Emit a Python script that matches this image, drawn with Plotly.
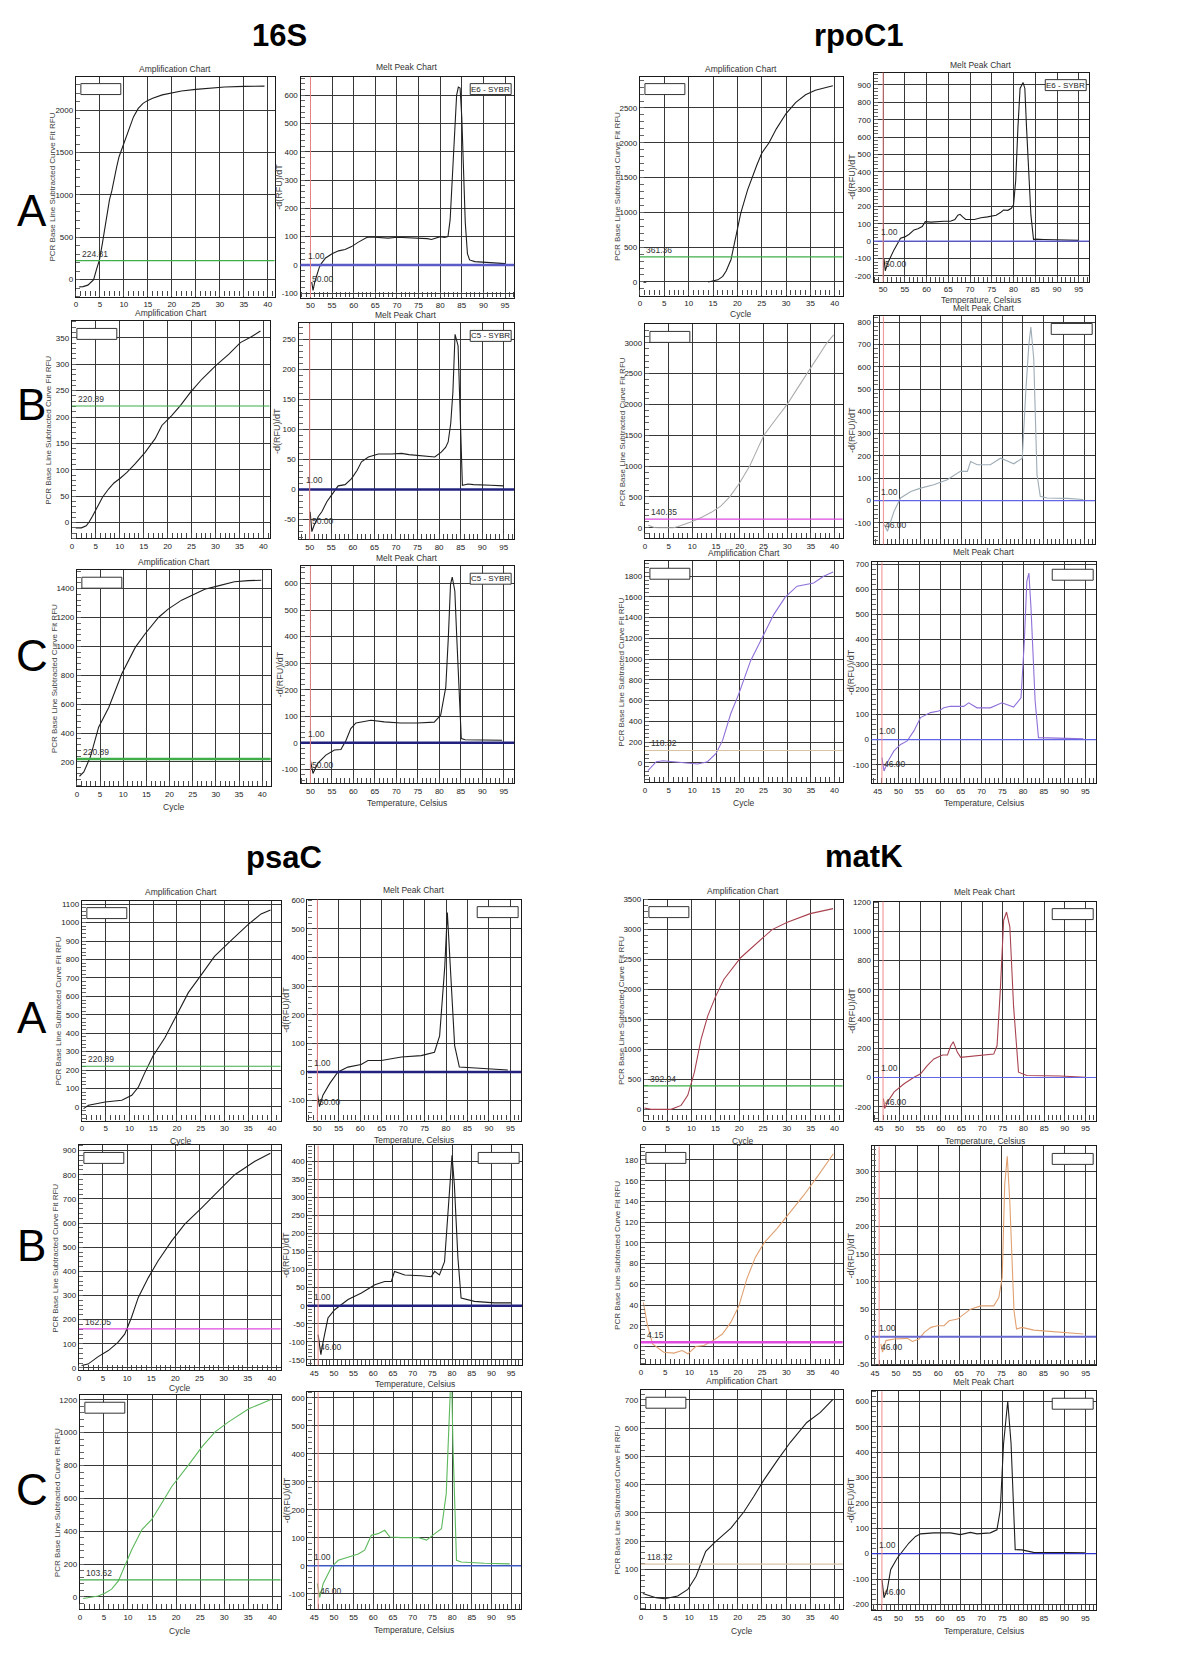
import math
import plotly.graph_objects as go

# ---------------- data ----------------
S16A_amp_x = [0.7,1.5,2.5,3,3.7,4.3,4.9,5.5,6,6.5,7,7.5,8,8.5,9,9.5,10,11,12,13,14,15,16,18,20,22,25,28,31,35,39.3]
S16A_amp_y = [-85,-82,-65,-40,0,120,230,420,600,780,940,1050,1200,1330,1450,1530,1600,1770,1920,2020,2080,2115,2140,2180,2205,2225,2245,2260,2272,2280,2283]
S16A_melt_x = [50.3,50.6,51,51.5,52,52.5,53.5,55,56.5,58,59.5,61,62,63,64,66,68,70,72,74,76,77,78,79,80,81,81.8,82.3,82.8,83.3,83.8,84.2,84.6,85,85.4,85.8,86.3,86.8,88,90,92,94,95]
S16A_melt_y = [-60,-90,-60,-30,-10,5,25,40,50,55,65,80,90,97,99,97,95,98,97,95,94,93,90,96,100,97,100,160,320,480,600,628,625,520,350,150,40,18,12,10,8,6,5]

S16B_amp_x = [0.8,2,3,3.6,4.3,5.1,6.4,7.7,8.8,10.1,11.5,13.2,15.3,17.4,18.8,20.9,22.7,24.8,27.2,30,32.8,35.2,37.5,39.4]
S16B_amp_y = [-10,-10,-6,1,12,26,48,64,75,84,95,111,133,159,184,203,222,247,272,297,319,341,352,363]
S16B_melt_x = [50.1,50.5,51,52,52.8,54,55.1,56.6,58.2,59.7,61,62,63.6,65.9,69,71.3,73,75.1,77,79,80.5,81.5,82.1,82.7,83.2,83.7,84.4,84.8,85.1,85.4,86,86.7,88,90,92,95]
S16B_melt_y = [-37,-70,-60,-45,-37,-20,-9,6,8,18,32,46,54,59,59,60,58,57,56,54,62,70,79,110,162,258,239,150,51,7,8,9,8,8,7,6]

S16C_amp_x = [0.56,1.5,2.9,4.7,6.9,9.7,12.6,14.7,17.6,19.7,22.6,25.5,27.6,30.5,34,37,39.8]
S16C_amp_y = [101,131,234,441,579,810,993,1086,1200,1258,1320,1361,1396,1419,1448,1455,1458]
S16C_melt_x = [50,50.6,51.7,53.6,55.6,57.1,58.3,59.4,60.6,62.5,64.1,67.2,71,74.9,78.8,80.3,81.5,82.1,82.6,83,83.6,84.1,84.6,85.1,86,88,91,94.6]
S16C_melt_y = [-65,-115,-77,-46,-27,-25,10,54,75,79,85,79,75,75,78,104,210,400,597,624,572,380,197,16,12,12,11,10]

RA_amp_x = [0.7,1.3,None,14,15,16,17,17.7,18.7,19.7,20.7,22.1,23,24,25,26.5,28,30,32,34,36,38,39.6]
RA_amp_y = [-5,-5,None,0,10,30,80,157,323,633,990,1323,1500,1680,1850,2000,2200,2420,2580,2690,2755,2795,2820]
RA_melt_x = [50.2,50.5,51,51.7,52.5,53.3,54,55,56,57.1,58,59,59.7,61,62.4,64,65.5,66.5,67.2,67.7,68.3,69,71,72.5,74,76,77,77.7,78.7,79.5,80,80.5,81,81.5,82.2,82.6,83,83.5,84,84.6,85,87,89,91,93,95]
RA_melt_y = [-100,-170,-130,-90,-50,-15,17,25,40,65,72,85,113,110,113,115,115,125,150,155,140,125,125,135,140,150,165,180,178,190,210,350,650,880,914,880,650,400,150,10,12,10,9,5,8,5]

RB_amp_x = [0.7,2,3,4,5,6,7,8,9,10,12,14,16,17.9,20,22.1,24,25.1,28,30,32,34.2,36,38.4,39.8]
RB_amp_y = [40,5,0,0,0,0,20,45,70,100,170,250,350,500,730,1000,1320,1500,1800,2000,2240,2500,2710,3000,3130]
RB_melt_x = [46.2,47,48.6,50.2,52.7,55.1,58.3,61.6,64.8,66.5,67.3,68.9,72.1,74.6,76,77.8,79.9,80.2,80.8,81.5,82,82.7,83.5,84.3,86,90.8,94.8]
RB_melt_y = [-107,-137,-48,12,41,56,71,94,131,131,175,161,161,190,180,165,190,309,500,696,778,637,116,19,12,10,5]

RC_amp_x = [0.63,2.4,3.8,6.2,9,11.1,13.2,15,16.4,18.1,19.8,22.3,25.1,27.2,29.6,32.1,35.6,37.7,39.7]
RC_amp_y = [-77,10,19,10,0,-12,10,90,218,473,665,985,1241,1432,1598,1704,1735,1800,1841]
RC_melt_x = [46,46.5,47.5,48.9,50.5,52.1,53.7,55.3,57.7,59.7,60.9,62.5,65.7,66.9,68.9,72.1,74.9,77.7,79.5,80.3,80.9,81.4,81.9,82.9,83.7,86,90.5,94.5]
RC_melt_y = [-72,-125,-85,-45,-19,-5,35,88,108,114,127,133,133,147,127,127,147,130,167,393,632,665,526,154,8,6,5,3]

PA_amp_x = [0.35,1.4,4.9,8.4,10.5,11.9,13.3,15,17.5,20.3,22.4,25.2,27.9,30.8,34.9,37.7,39.7]
PA_amp_y = [-9,9,27,36,63,108,189,278,377,512,620,719,817,889,988,1047,1069]
PA_melt_x = [50,50.5,51.3,52.9,54.8,57.1,60.2,61.8,64.9,69.6,74.2,77.3,78.5,79.2,79.7,80.3,80.8,81.4,82,83.1,85.1,89.7,94.4]
PA_melt_y = [-75,-121,-81,-40,0,17,26,40,40,52,57,69,126,250,368,557,425,250,92,17,15,12,7]

PB_amp_x = [0.56,1.9,4,6.1,8.1,9.5,10.9,12.3,14.4,16.4,19.2,21.9,25.4,28.8,32.3,36.4,39.7]
PB_amp_y = [10,16,47,72,106,140,209,291,374,443,525,594,662,731,800,855,889]
PB_melt_x = [46,46.7,47.3,48.5,50.2,51.9,53.6,57,60.4,62.9,64.6,65.4,68,72.2,74.7,75.6,76.8,78.1,79.4,80,80.6,81.5,82.3,85.7,90.8,95]
PB_melt_y = [-80,-135,-98,-34,-11,3,17,35,58,67,67,95,85,83,80,95,85,122,333,416,333,131,21,12,8,8]

PC_amp_x = [0.7,3.8,5.2,6.6,8,9.4,10.8,12.9,14.9,17,19.1,22.6,25.4,28.1,30.9,35.1,39.6]
PC_amp_y = [-10,6,22,47,97,188,289,410,470,570,672,803,914,1004,1065,1145,1200]
PC_melt_x = [45.8,46.4,47.3,49.4,51.1,53.6,56.2,57.8,59.5,61.2,62.9,64.2,67.1,71.4,73.5,75.6,77.3,78.5,79.3,79.8,80.2,81.1,82.3,88.2,94.6]
PC_melt_y = [-63,-113,-63,-4,20,32,42,56,109,115,127,103,101,101,92,115,133,258,640,720,436,20,14,9,7]

MA_amp_x = [0.1,1.5,5.7,7.8,9.2,10.6,12,13.4,15.1,16.8,20.3,25.2,26.9,30.1,34.9,39.7]
MA_amp_y = [23,0,0,66,233,621,1174,1561,1894,2171,2531,2890,3000,3123,3267,3350]
MA_melt_x = [46.1,46.4,47.1,48.7,51.1,53.5,55.1,56.7,58.3,60.4,61.6,62.4,63,64,64.8,67.2,70.4,72.8,73.6,74.4,75.2,75.9,76.7,77.6,78.8,80.8,88.9,95]
MA_melt_y = [-144,-212,-167,-99,-43,2,25,81,127,154,154,217,244,172,138,145,154,160,217,601,1076,1132,1031,488,36,14,10,2]

MB_amp_x = [0.5,1.3,2.4,3.4,4.7,6.8,8.5,9.7,11.3,13,15.1,16.8,18.5,20.2,21.9,23.6,25.4,28.1,30.9,33.6,36.4,39.7]
MB_amp_y = [42.5,21.7,2.5,-0.7,-5.5,-6.4,-3.9,-7.1,0,1,6.4,12,23,39,66,86,100,114,130,146,164,186]
MB_melt_x = [46.4,46.8,47.6,49.6,52.7,53.9,55.5,56.7,58.3,59.8,61.4,62.6,64.6,66.1,67.7,70.1,73.2,74.4,75.2,75.8,76.4,77,78,78.6,79.9,82.7,89,94.5]
MB_melt_y = [-13,-28,-7,-4,-3,-8.5,-4,8,17,20,20,29,32,41,50,56,56,71,107,276,327,246,47,14,17,12,8,5]

MC_amp_x = [0.4,3.1,4.9,7.6,9.7,11.4,13.4,15.1,18.6,21.3,23.3,25.4,28.2,30.9,34.3,37.1,39.7]
MC_amp_y = [15,0,-4,6,29,76,164,193,246,304,357,416,486,550,620,656,702]
MC_melt_x = [46,46.5,47.3,48.1,49.7,50.9,52.5,54.1,55.3,58.5,62.5,64.9,67.3,68.9,72.1,73.7,74.5,75.3,76.3,77.1,78.1,79.7,82.5,90.5,94.9]
MC_melt_y = [-102,-174,-141,-63,-17,9,42,68,78,82,82,75,84,78,82,94,172,434,601,434,16,15,5,4,3]

THRESHOLDS = {"16S_A": 224.81, "16S_B": 220.89, "16S_C": 220.89,
              "rpoC1_A": 361.36, "rpoC1_B": 140.35, "rpoC1_C": 118.32,
              "psaC_A": 220.89, "psaC_B": 162.05, "psaC_C": 103.62,
              "matK_A": 392.04, "matK_B": 4.15, "matK_C": 118.32}
MELT_START = {"16S_A": 50, "16S_B": 50, "16S_C": 50, "rpoC1_A": 50, "rpoC1_B": 46, "rpoC1_C": 46,
              "psaC_A": 50, "psaC_B": 46, "psaC_C": 46, "matK_A": 46, "matK_B": 46, "matK_C": 46}
SECTION_TITLES = ["16S", "rpoC1", "psaC", "matK"]
ROW_LABELS = ["A", "B", "C"]

# ---------------- styling / layout ----------------
W, H = 1200, 1662
NARROW = "Liberation Sans Narrow, Arial Narrow, Liberation Sans, Arial"
GRID = "#383838"
GREEN, MAGENTA, TAN = "#3fae49", "#e04ae0", "#d9c3a5"
NAVY, BLUE = "#22227e", "#6464e6"

P = []
def add(key, kind, x, y, box, xr, yr, ydt, color, title_y=None, xtitle_y=None,
        thr_color=GREEN, zc=BLUE, zw=1.2, legend="", thr_w=1.2, xlabels=True):
    P.append(dict(key=key, kind=kind, x=x, y=y, box=box, xr=xr, yr=yr, ydt=ydt, color=color,
                  title_y=title_y, xtitle_y=xtitle_y, thr_color=thr_color, zc=zc, zw=zw,
                  legend=legend, thr_w=thr_w, xlabels=xlabels))

BLACK = "#1e1e1e"
add("16S_A", "amp", S16A_amp_x, S16A_amp_y, (74, 73, 273, 294), (0, 41.4), (-200, 2395), 500, BLACK, 65)
add("16S_A", "melt", S16A_melt_x, S16A_melt_y, (299, 73, 513, 295), (47.7, 97.1), (-115, 665), 100, BLACK, 63,
    zc="#5c5cc8", zw=2.5, legend="E6 - SYBR")
add("16S_B", "amp", S16B_amp_x, S16B_amp_y, (70, 319, 268, 537), (0, 41.3), (-30, 381), 50, BLACK, 310)
add("16S_B", "melt", S16B_melt_x, S16B_melt_y, (297, 321, 513, 538), (47.4, 97.4), (-83, 276), 50, BLACK, 313,
    zc=NAVY, zw=2.5, legend="C5 - SYBR")
add("16S_C", "amp", S16C_amp_x, S16C_amp_y, (75, 569, 269, 786), (0, 41.8), (32, 1527), 200, BLACK, 561, 807,
    thr_w=2.5)
add("16S_C", "melt", S16C_melt_x, S16C_melt_y, (299, 565, 513, 783), (47.7, 97.4), (-152, 665), 100, BLACK, 557, 803,
    zc=NAVY, zw=2.5, legend="C5 - SYBR")
add("rpoC1_A", "amp", RA_amp_x, RA_amp_y, (639, 73, 842, 293), (0, 41.6), (-196, 2950), 500, BLACK, 65, 311)
add("rpoC1_A", "melt", RA_melt_x, RA_melt_y, (873, 69, 1089, 279), (47.8, 97.4), (-233, 971), 100, BLACK, 61, 297,
    legend="E6 - SYBR")
add("rpoC1_B", "amp", RB_amp_x, RB_amp_y, (644, 322, 842, 537), (0, 41.7), (-173, 3298), 500, "#ababab",
    thr_color=MAGENTA)
add("rpoC1_B", "melt", RB_melt_x, RB_melt_y, (873, 314, 1095, 543), (43.6, 97.7), (-196, 825), 100, "#9eacb6", 305,
    xlabels=False)
add("rpoC1_C", "amp", RC_amp_x, RC_amp_y, (644, 560, 842, 782), (0, 41.7), (-188, 1944), 200, "#8f6fd8", 552, 803,
    thr_color=TAN)
add("rpoC1_C", "melt", RC_melt_x, RC_melt_y, (871, 561, 1096, 783), (43.5, 97.6), (-174, 708), 100, "#8f6fd8", 551, 803)

add("psaC_A", "amp", PA_amp_x, PA_amp_y, (80, 901, 279, 1122), (0, 41.8), (-74, 1119), 100, BLACK, 892, 1142)
add("psaC_A", "melt", PA_melt_x, PA_melt_y, (306, 900, 520, 1122), (47.7, 97.5), (-170, 602), 100, BLACK, 890, 1141,
    zc=NAVY, zw=2.5)
add("psaC_B", "amp", PB_amp_x, PB_amp_y, (77, 1147, 279, 1373), (0, 41.8), (-10, 921), 100, BLACK, None, 1391,
    thr_color=MAGENTA)
add("psaC_B", "melt", PB_melt_x, PB_melt_y, (306, 1147, 521, 1368), (43.3, 97.8), (-165, 443), 50, BLACK, None, 1387,
    zc=NAVY, zw=2.5)
add("psaC_C", "amp", PC_amp_x, PC_amp_y, (78, 1398, 279, 1613), (0, 41.7), (-75, 1227), 200, "#5cb85c", None, 1635)
add("psaC_C", "melt", PC_melt_x, PC_melt_y, (306, 1395, 520, 1613), (43.3, 97.5), (-155, 620), 100, "#5cb85c", None,
    1634, zc="#3f5fe0", legend=None)
add("matK_A", "amp", MA_amp_x, MA_amp_y, (643, 900, 842, 1122), (0, 41.7), (-188, 3500), 500, "#a8424f", 891, 1143)
add("matK_A", "melt", MA_melt_x, MA_melt_y, (873, 902, 1096, 1122), (43.7, 97.6), (-295, 1203), 200, "#a8424f", 892,
    1142)
add("matK_B", "amp", MB_amp_x, MB_amp_y, (640, 1147, 842, 1367), (0, 41.6), (-17.3, 194), 20, "#e0a070",
    thr_color=MAGENTA, thr_w=2.5)
add("matK_B", "melt", MB_melt_x, MB_melt_y, (871, 1148, 1096, 1368), (44.2, 97.5), (-52, 345), 50, "#e0a070",
    zc="#6a6ad0", zw=2)
add("matK_C", "amp", MC_amp_x, MC_amp_y, (640, 1393, 842, 1613), (0, 41.7), (-41, 734), 100, BLACK, 1384, 1635,
    thr_color=TAN)
add("matK_C", "melt", MC_melt_x, MC_melt_y, (871, 1394, 1096, 1614), (43.5, 97.6), (-223, 640), 100, BLACK, 1385, 1635,
    zc="#3434d0")


def px(v):
    return v / W


def py(v):
    return 1 - v / H


def fmt(v):
    return str(int(v)) if float(v).is_integer() else str(v)


def tick_list(lo, hi, dt):
    start = math.ceil(lo / dt - 1e-9) * dt
    vals = []
    v = start
    while v <= hi + 1e-9:
        vals.append(round(v, 6))
        v += dt
    return vals


fig = go.Figure()
shapes, annos = [], []
TF = dict(family=NARROW, size=8, color="#222")
LF = dict(family=NARROW, size=8.5, color="#333")

for i, p in enumerate(P):
    n = i + 1
    sx = "" if n == 1 else str(n)
    xa, ya = "x" + sx, "y" + sx
    l, t, r, b = p["box"]
    fig.add_trace(go.Scatter(x=p["x"], y=p["y"], mode="lines", xaxis=xa, yaxis=ya,
                             line=dict(color=p["color"], width=1.1), showlegend=False,
                             hoverinfo="skip", connectgaps=False))
    xt = tick_list(p["xr"][0], min(p["xr"][1], 95 if p["kind"] == "melt" else 40), 5)
    yt = tick_list(p["yr"][0], p["yr"][1], p["ydt"])
    common = dict(showgrid=True, gridcolor=GRID, gridwidth=1.3, showline=True, mirror=True,
                  linecolor="#1a1a1a", linewidth=1.2, ticks="", tickfont=TF, zeroline=False,
                  tickmode="array", fixedrange=True)
    fig.layout["xaxis" + sx] = dict(common, domain=[px(l), px(r)], range=list(p["xr"]), anchor=ya,
                                    tickvals=xt, ticktext=[fmt(v) for v in xt],
                                    showticklabels=p["xlabels"],
                                    minor=dict(tickmode="linear", tick0=0, dtick=1, ticks="inside",
                                               ticklen=5, tickcolor="#444", tickwidth=1, showgrid=False))
    fig.layout["yaxis" + sx] = dict(common, domain=[py(b), py(t)], range=list(p["yr"]), anchor=xa,
                                    tickvals=yt, ticktext=[fmt(v) for v in yt],
                                    minor=dict(tickmode="linear", tick0=0, dtick=p["ydt"] / 5, ticks="inside",
                                               ticklen=4, tickcolor="#666", tickwidth=1, showgrid=False))
    cx = (l + r) / 2
    cy = (t + b) / 2
    if p["kind"] == "amp":
        title, xtitle, ytitle, ytx = "Amplification Chart", "Cycle", "PCR Base Line Subtracted Curve Fit RFU", l - 23
        thr = THRESHOLDS[p["key"]]
        shapes.append(dict(type="line", xref=xa + " domain", x0=0, x1=1, yref=ya, y0=thr, y1=thr,
                           line=dict(color=p["thr_color"], width=p["thr_w"])))
        annos.append(dict(text=fmt(thr), xref=xa + " domain", x=0, xshift=4, yref=ya, y=thr,
                          xanchor="left", yanchor="bottom", showarrow=False, font=LF))
        shapes.append(dict(type="rect", xref="paper", yref="paper", x0=px(l + 5), x1=px(l + 45),
                           y0=py(t + 18), y1=py(t + 7), line=dict(color="#333", width=1), fillcolor="white"))
        ysize = 8
    else:
        title, xtitle, ytitle, ytx = "Melt Peak Chart", "Temperature, Celsius", "-d(RFU)/dT", l - 21
        st = MELT_START[p["key"]]
        shapes.append(dict(type="line", xref=xa + " domain", x0=0, x1=1, yref=ya, y0=0, y1=0,
                           line=dict(color=p["zc"], width=p["zw"])))
        shapes.append(dict(type="line", xref=xa, x0=st, x1=st, yref=ya + " domain", y0=0, y1=1,
                           line=dict(color="#f08a8a", width=1)))
        annos.append(dict(text="1.00", xref=xa + " domain", x=0, xshift=5, yref=ya, y=0, yshift=2,
                          xanchor="left", yanchor="bottom", showarrow=False, font=LF))
        annos.append(dict(text=f"{st:.2f}", xref=xa, x=st, yref=ya + " domain", y=0.085,
                          xanchor="left", yanchor="middle", showarrow=False, font=LF))
        if p["legend"] is not None:
            shapes.append(dict(type="rect", xref="paper", yref="paper", x0=px(r - 44), x1=px(r - 3),
                               y0=py(t + 18), y1=py(t + 7), line=dict(color="#333", width=1),
                               fillcolor="white"))
            if p["legend"]:
                annos.append(dict(text=p["legend"], xref="paper", yref="paper", x=px(r - 23.5),
                                  y=py(t + 12.5), xanchor="center", yanchor="middle", showarrow=False,
                                  font=dict(family=NARROW, size=8, color="#222")))
        ysize = 9
    annos.append(dict(text=ytitle, xref="paper", yref="paper", x=px(ytx), y=py(cy), textangle=-90,
                      xanchor="center", yanchor="middle", showarrow=False,
                      font=dict(family="Liberation Sans, Arial", size=ysize, color="#444")))
    if p["title_y"] is not None:
        annos.append(dict(text=title, xref="paper", yref="paper", x=px(cx), y=py(p["title_y"]),
                          xanchor="center", yanchor="middle", showarrow=False, font=LF))
    if p["xtitle_y"] is not None:
        annos.append(dict(text=xtitle, xref="paper", yref="paper", x=px(cx), y=py(p["xtitle_y"]),
                          xanchor="center", yanchor="middle", showarrow=False, font=LF))

for txt, (x0, y0) in zip(SECTION_TITLES, [(278, 32), (858, 32), (282, 858), (863, 857)]):
    annos.append(dict(text="<b>" + txt + "</b>", xref="paper", yref="paper", x=px(x0), y=py(y0),
                      xanchor="center", yanchor="middle", showarrow=False,
                      font=dict(family="Liberation Sans, Arial", size=31, color="black")))
for lab, yy in zip(ROW_LABELS * 2, [208, 402, 655, 1018, 1248, 1493]):
    annos.append(dict(text=lab, xref="paper", yref="paper", x=px(30), y=py(yy), xanchor="center",
                      yanchor="middle", showarrow=False,
                      font=dict(family="Liberation Sans, Arial", size=44, color="black")))

fig.update_layout(width=W, height=H, margin=dict(l=0, r=0, t=0, b=0), paper_bgcolor="white",
                  plot_bgcolor="white", shapes=shapes, annotations=annos, showlegend=False)

fig.write_html("out.html", config={"displayModeBar": False},
               post_script="document.body.style.margin='0';")
